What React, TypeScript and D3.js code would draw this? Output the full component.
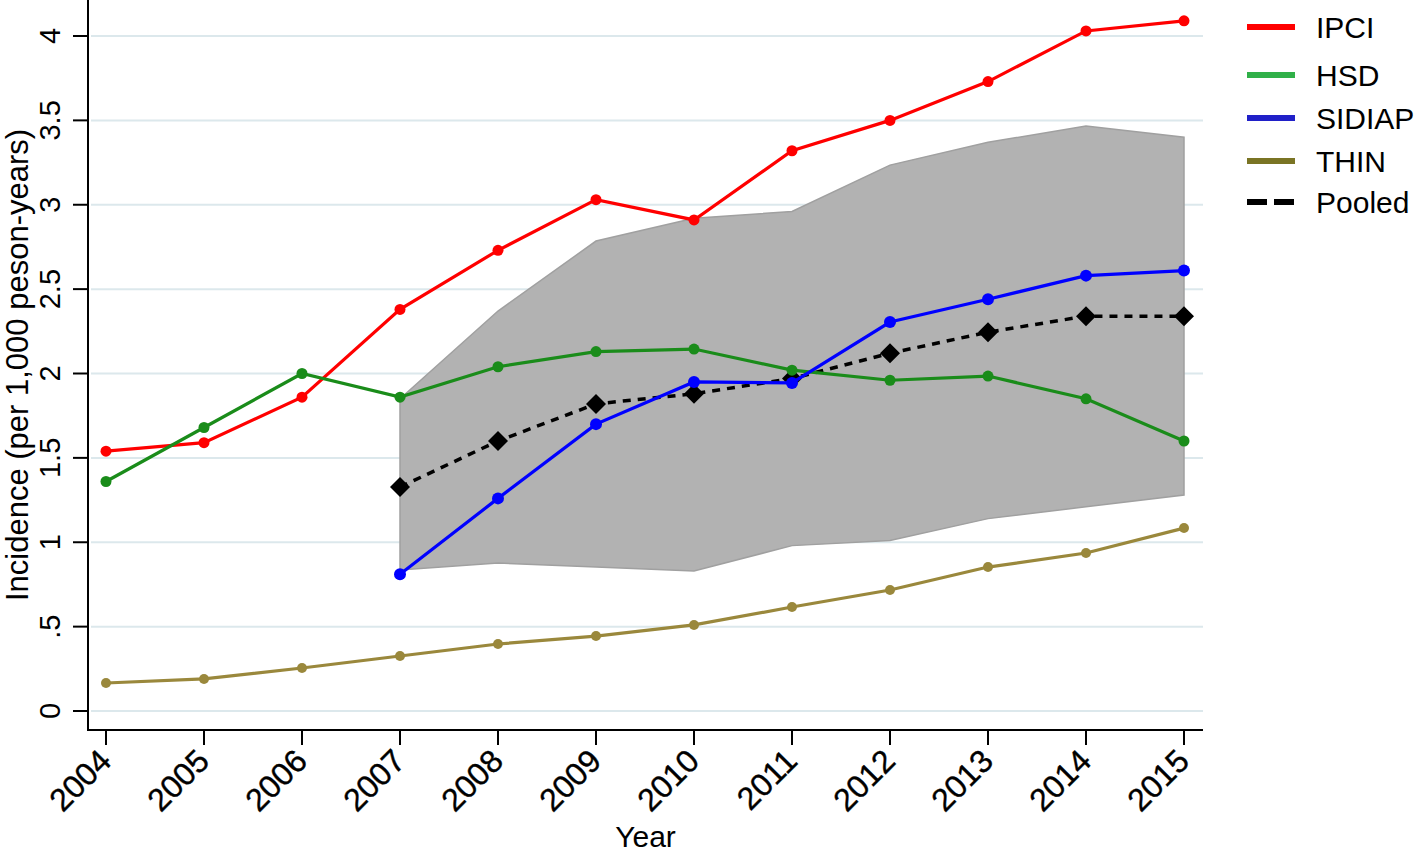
import React from "react";
import * as d3 from "d3";

const years = [2004, 2005, 2006, 2007, 2008, 2009, 2010, 2011, 2012, 2013, 2014, 2015];

const ipci = [1.54, 1.59, 1.86, 2.38, 2.73, 3.03, 2.91, 3.32, 3.5, 3.73, 4.03, 4.09];
const hsd = [1.36, 1.68, 2.0, 1.86, 2.04, 2.13, 2.145, 2.02, 1.96, 1.985, 1.85, 1.6];
const sidiapYears = [2007, 2008, 2009, 2010, 2011, 2012, 2013, 2014, 2015];
const sidiap = [0.81, 1.26, 1.7, 1.95, 1.944, 2.305, 2.44, 2.58, 2.61];
const thin = [0.166, 0.19, 0.255, 0.326, 0.397, 0.444, 0.51, 0.616, 0.717, 0.853, 0.936, 1.084];

const pooledYears = [2007, 2008, 2009, 2010, 2011, 2012, 2013, 2014, 2015];
const pooled = [1.327, 1.6, 1.82, 1.88, 1.97, 2.12, 2.245, 2.34, 2.34];
const pooledLow = [0.836, 0.877, 0.853, 0.83, 0.98, 1.01, 1.14, 1.21, 1.28];
const pooledHigh = [1.85, 2.37, 2.785, 2.92, 2.96, 3.235, 3.37, 3.467, 3.4];

const yTicks = [0, 0.5, 1, 1.5, 2, 2.5, 3, 3.5, 4];
const yTickLabels = ["0", ".5", "1", "1.5", "2", "2.5", "3", "3.5", "4"];

const legendItems = [
  { name: "IPCI", color: "#ff0000", dash: "" },
  { name: "HSD", color: "#30b048", dash: "" },
  { name: "SIDIAP", color: "#2020c8", dash: "" },
  { name: "THIN", color: "#7a7424", dash: "" },
  { name: "Pooled", color: "#000000", dash: "20,7" },
];

const FONT = "'Liberation Sans', Arial, sans-serif";

export default function App() {
  const width = 1418;
  const height = 852;
  const axisLeft = 88;
  const axisBottom = 730;
  const plotRight = 1203;

  const x = d3.scaleLinear().domain([2004, 2015]).range([106, 1184]);
  const y = d3.scaleLinear().domain([0, 4]).range([711, 36]);

  const line = d3
    .line<[number, number]>()
    .x((d) => x(d[0]))
    .y((d) => y(d[1]));

  const band = d3
    .area<number>()
    .x((_, i) => x(pooledYears[i]))
    .y0((_, i) => y(pooledLow[i]))
    .y1((_, i) => y(pooledHigh[i]));

  const series = [
    { color: "#ff0000", xs: years, vs: ipci, r: 5.5 },
    { color: "#1a8c1a", xs: years, vs: hsd, r: 5.5 },
    { color: "#0000ff", xs: sidiapYears, vs: sidiap, r: 6 },
    { color: "#9a883c", xs: years, vs: thin, r: 5 },
  ];

  const pooledPts: [number, number][] = pooledYears.map((yr, i) => [yr, pooled[i]]);

  return (
    <div style={{ position: "absolute", left: 0, top: 0 }}>
      <svg width={width} height={height} style={{ display: "block", background: "#fff" }}>
        {/* gridlines */}
        {yTicks.map((t) => (
          <line key={"g" + t} x1={axisLeft + 3} x2={plotRight} y1={y(t)} y2={y(t)} stroke="#dce8ec" strokeWidth={2} />
        ))}

        {/* confidence band */}
        <path d={band(pooledYears) || ""} fill="#b2b2b2" stroke="#a0a0a0" strokeWidth={1.5} />

        {/* pooled */}
        <path d={line(pooledPts) || ""} fill="none" stroke="#000" strokeWidth={3.5} strokeDasharray="8,7" />
        {pooledPts.map((p, i) => (
          <path
            key={"pd" + i}
            d={`M${x(p[0])},${y(p[1]) - 10}L${x(p[0]) + 10},${y(p[1])}L${x(p[0])},${y(p[1]) + 10}L${x(p[0]) - 10},${y(p[1])}Z`}
            fill="#000"
          />
        ))}

        {/* series */}
        {series.map((s, si) => {
          const pts: [number, number][] = s.xs.map((yr, i) => [yr, s.vs[i]]);
          return (
            <g key={"s" + si}>
              <path d={line(pts) || ""} fill="none" stroke={s.color} strokeWidth={3.2} />
              {pts.map((p, i) => (
                <circle key={i} cx={x(p[0])} cy={y(p[1])} r={s.r} fill={s.color} />
              ))}
            </g>
          );
        })}

        {/* axes */}
        <line x1={axisLeft} x2={axisLeft} y1={0} y2={axisBottom + 1} stroke="#000" strokeWidth={2} />
        <line x1={axisLeft - 1} x2={plotRight} y1={axisBottom} y2={axisBottom} stroke="#000" strokeWidth={2} />

        {yTicks.map((t, i) => (
          <g key={"yt" + t}>
            <line x1={73} x2={axisLeft} y1={y(t)} y2={y(t)} stroke="#000" strokeWidth={2} />
            <text
              transform={`translate(60,${y(t)}) rotate(-90)`}
              textAnchor="middle"
              fontFamily={FONT}
              fontSize={29}
              fill="#000"
            >
              {yTickLabels[i]}
            </text>
          </g>
        ))}

        {years.map((yr) => (
          <g key={"xt" + yr}>
            <line x1={x(yr)} x2={x(yr)} y1={axisBottom} y2={axisBottom + 15} stroke="#000" strokeWidth={2} />
            <text
              transform={`translate(${x(yr) + 7},${axisBottom + 33}) rotate(-45)`}
              textAnchor="end"
              fontFamily={FONT}
              fontSize={32}
              fill="#000"
              stroke="#000"
              strokeWidth={0.4}
            >
              {yr}
            </text>
          </g>
        ))}

        <text
          transform={`translate(28,${axisBottom / 2}) rotate(-90)`}
          textAnchor="middle"
          fontFamily={FONT}
          fontSize={31}
          fill="#000"
        >
          Incidence (per 1,000 peson-years)
        </text>
        <text x={(axisLeft + plotRight) / 2} y={847} textAnchor="middle" fontFamily={FONT} fontSize={30} fill="#000">
          Year
        </text>

        {/* legend */}
        {legendItems.map((it, i) => {
          const ly = [27, 75, 118, 161, 202][i];
          return (
            <g key={it.name}>
              <line
                x1={1247}
                x2={1295}
                y1={ly}
                y2={ly}
                stroke={it.color}
                strokeWidth={6}
                strokeDasharray={it.dash || undefined}
              />
              <text x={1316} y={ly + 11} fontFamily={FONT} fontSize={30} fill="#000">
                {it.name}
              </text>
            </g>
          );
        })}
      </svg>
    </div>
  );
}
